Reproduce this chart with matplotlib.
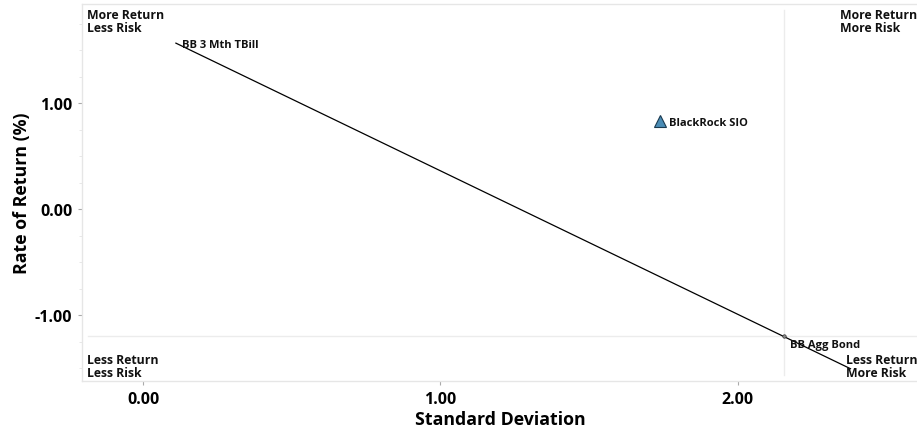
import matplotlib
matplotlib.use("Agg")
import matplotlib.pyplot as plt
from matplotlib.ticker import MultipleLocator

plt.rcParams['font.family'] = ['Open Sans', 'DejaVu Sans']

# Data
names = ["BB 3 Mth TBill", "BlackRock SIO", "BB Agg Bond"]
std_dev = [0.11, 1.74, 2.155]
returns = [1.565, 0.83, -1.20]
line_end_x = 2.38
tick_x = [0.0, 1.0, 2.0]
tick_y = [-1.0, 0.0, 1.0]

fig = plt.figure(figsize=(9.17, 4.31), dpi=100)
ax = fig.add_axes([82/917, 1-382/431, 1-82/917+0.002, (382-5)/431])
ax.set_xlim(-0.206, 2.61)
ax.set_ylim(-1.62, 1.934)

for s in ax.spines.values():
    s.set_color('#e6e6e6')
    s.set_linewidth(1)

# quadrant lines at benchmark
bx, by = std_dev[2], returns[2]
ax.axvline(bx, ymin=0.015, ymax=0.985, color='#ececec', lw=1, zorder=1)
ax.axhline(by, xmin=0.007, xmax=0.997, color='#ececec', lw=1, zorder=1)

# capital market line from TBill through benchmark
x0, y0 = std_dev[0], returns[0]
slope = (by - y0) / (bx - x0)
ax.plot([x0, line_end_x], [y0, y0 + slope * (line_end_x - x0)], color='black', lw=0.9, zorder=2)

# points
ax.plot(std_dev[1], returns[1], marker='^', ms=8, color='#4a8cb5', mec='#1a3a50', mew=0.8, zorder=3, ls='none')
ax.plot(std_dev[2], returns[2], marker='o', ms=2.5, color='#888888', mec='#333333', mew=0.5, zorder=3, ls='none')

lblkw = dict(fontsize=8, fontweight='bold', va='center', ha='left', color='#111111')
ax.text(std_dev[0] + 0.02, returns[0] - 0.01, names[0], **lblkw)
ax.text(std_dev[1] + 0.03, returns[1] - 0.01, names[1], **lblkw)
ax.text(std_dev[2] + 0.02, returns[2] - 0.075, names[2], **lblkw)

qkw = dict(fontsize=8.8, fontweight='bold', color='#111111', transform=ax.transAxes, linespacing=1.05)
ax.text(0.006, 0.99, "More Return\nLess Risk", va='top', ha='left', **qkw)
ax.text(0.906, 0.99, "More Return\nMore Risk", va='top', ha='left', **qkw)
ax.text(0.006, 0.005, "Less Return\nLess Risk", va='bottom', ha='left', **qkw)
ax.text(0.913, 0.005, "Less Return\nMore Risk", va='bottom', ha='left', **qkw)

ax.set_xticks(tick_x)
ax.set_xticklabels([f"{v:.2f}" for v in tick_x])
ax.set_yticks(tick_y)
ax.set_yticklabels([f"{v:.2f}" for v in tick_y])
ax.yaxis.set_minor_locator(MultipleLocator(0.25))
ax.tick_params(axis='both', which='major', length=3, width=0.8, color='#aaaaaa', labelsize=11.5, pad=4)
ax.tick_params(axis='y', which='minor', length=2, width=0.6, color='#e4e4e4')
for t in ax.get_xticklabels() + ax.get_yticklabels():
    t.set_fontweight('bold')

ax.set_xlabel("Standard Deviation", fontsize=12.8, fontweight='bold', labelpad=2.5)
ax.set_ylabel("Rate of Return (%)", fontsize=12.8, fontweight='bold', labelpad=3)

fig.savefig("out.png", dpi=100)
